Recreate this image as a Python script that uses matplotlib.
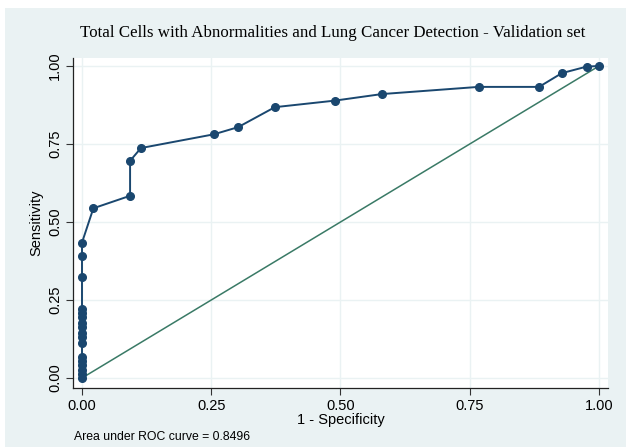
import matplotlib.pyplot as plt
from matplotlib.patches import Rectangle

# ROC points
fpr = [0.0, 0.0, 0.0, 0.0, 0.0, 0.0, 0.0, 0.0, 0.0, 0.0, 0.0, 0.0, 0.0, 0.0, 0.0, 0.0, 0.0,
       0.022, 0.093, 0.093, 0.114, 0.255, 0.302, 0.373, 0.489, 0.580, 0.767, 0.884, 0.928, 0.976, 1.0]
tpr = [0.0, 0.013, 0.026, 0.041, 0.055, 0.068, 0.113, 0.130, 0.145, 0.163, 0.175, 0.195, 0.207,
       0.220, 0.325, 0.391, 0.434,
       0.544, 0.584, 0.696, 0.737, 0.781, 0.804, 0.868, 0.889, 0.910, 0.933, 0.933, 0.977, 0.998, 1.0]
ticks = [0.0, 0.25, 0.5, 0.75, 1.0]
tick_labels = ["0.00", "0.25", "0.50", "0.75", "1.00"]
auc = 0.8496

bg = "#eaf2f3"
navy = "#1a476f"
green = "#3a7a66"

fig = plt.figure(figsize=(6.26, 4.47), dpi=100)
fig.patches.append(Rectangle((5 / 626, 0), 1, 1 - 8 / 447, transform=fig.transFigure,
                             facecolor=bg, edgecolor="none", zorder=-10))

ax = fig.add_axes([73 / 626, 59 / 447, 535 / 626, 330 / 447])
ax.set_facecolor("white")
ax.set_xlim(-0.0174, 1.0174)
ax.set_ylim(-0.032, 1.0256)

ax.plot([0, 1], [0, 1], color=green, lw=1.1, zorder=2)
ax.plot(fpr, tpr, color=navy, lw=1.4, marker="o", markersize=5.5, zorder=3)

ax.set_xticks(ticks)
ax.set_xticklabels(tick_labels, fontfamily="Liberation Sans", fontsize=10.5)
ax.set_yticks(ticks)
ax.set_yticklabels(tick_labels, fontfamily="Liberation Sans", fontsize=10.5, rotation=90, va="center")
ax.grid(True, color=bg, lw=1.0, zorder=0)
ax.tick_params(direction="out", length=5, width=0.8, color="#333333", pad=3)

for side in ["top", "right"]:
    ax.spines[side].set_visible(False)
for side in ["left", "bottom"]:
    ax.spines[side].set_color("#222222")
    ax.spines[side].set_linewidth(0.9)

ax.set_xlabel("1 - Specificity", fontfamily="Liberation Sans", fontsize=10.5, labelpad=0)
ax.set_ylabel("Sensitivity", fontfamily="Liberation Sans", fontsize=10.5, labelpad=3)

fig.text(333 / 626, 1 - 33 / 447, "Total Cells with Abnormalities and Lung Cancer Detection - Validation set",
         ha="center", va="center", fontfamily="Liberation Serif", fontsize=12.2)
fig.text(74 / 626, 1 - 437 / 447, "Area under ROC curve = %.4f" % auc,
         ha="left", va="center", fontfamily="Liberation Sans", fontsize=8.8)

fig.savefig("out.png", dpi=100)
